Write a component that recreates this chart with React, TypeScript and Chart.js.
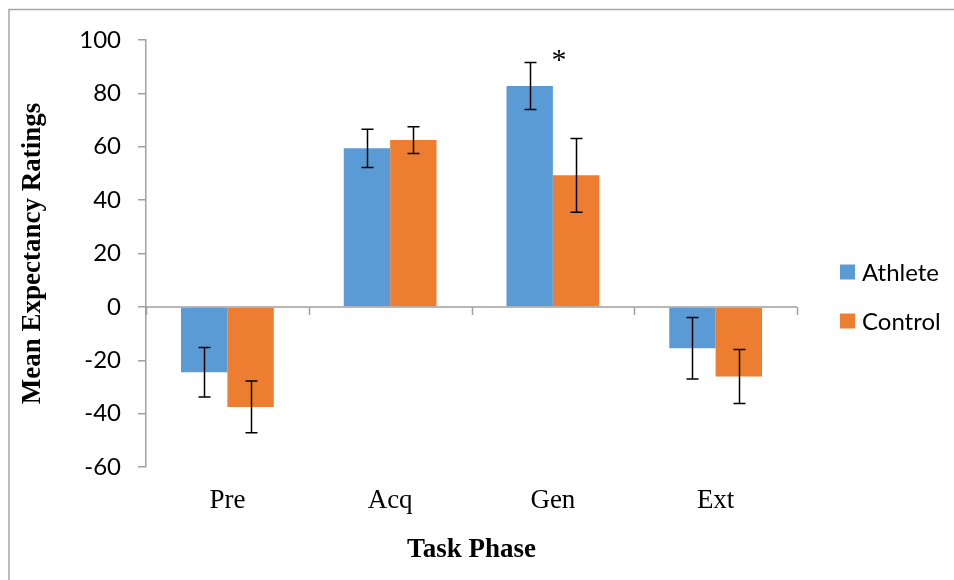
import React, { useEffect, useRef } from "react";
import { Chart, registerables } from "chart.js";

Chart.register(...registerables);

const categories = ["Pre", "Acq", "Gen", "Ext"];
const seriesNames = ["Athlete", "Control"];
const athleteValues = [-24.5, 59.4, 82.8, -15.5];
const controlValues = [-37.5, 62.5, 49.3, -26.1];
const athleteErrors = [9.3, 7.2, 8.8, 11.5];
const controlErrors = [9.7, 5.0, 13.8, 10.1];
const significantMarks = ["", "", "*", ""];
const yTitle = "Mean Expectancy Ratings";
const xTitle = "Task Phase";

const BLUE = "#5B9BD5";
const ORANGE = "#ED7D31";
const AXIS = "#A0A0A0";

const W = 946;
const H = 572;

const errorsByDataset = [athleteErrors, controlErrors];

const framePlugin = {
  id: "frame",
  beforeDraw(chart: any) {
    const ctx = chart.ctx;
    ctx.save();
    ctx.fillStyle = "#ffffff";
    ctx.fillRect(0, 0, chart.width, chart.height);
    ctx.strokeStyle = "#A6A6A6";
    ctx.lineWidth = 1.5;
    ctx.beginPath();
    ctx.moveTo(1, chart.height + 5);
    ctx.lineTo(1, 1.5);
    ctx.lineTo(chart.width + 5, 1.5);
    ctx.stroke();
    ctx.restore();
  },
};

const zeroAxisPlugin = {
  id: "zeroAxis",
  afterDatasetsDraw(chart: any) {
    const ctx = chart.ctx;
    const y = chart.scales.y.getPixelForValue(0);
    const xs = chart.scales.x;
    const { left, right } = chart.chartArea;
    ctx.save();
    ctx.strokeStyle = AXIS;
    ctx.lineWidth = 1.5;
    ctx.beginPath();
    ctx.moveTo(left, y);
    ctx.lineTo(right, y);
    const n = categories.length;
    const step = xs.getPixelForValue(1) - xs.getPixelForValue(0);
    for (let i = 0; i <= n; i++) {
      const px = i === n ? right : xs.getPixelForValue(i) - step / 2;
      const xx = Math.round(px) + 0.5;
      ctx.moveTo(xx, y);
      ctx.lineTo(xx, y + 8);
    }
    ctx.stroke();
    ctx.restore();
  },
};

const errorBarPlugin = {
  id: "errorBars",
  afterDatasetsDraw(chart: any) {
    const ctx = chart.ctx;
    const ys = chart.scales.y;
    ctx.save();
    ctx.strokeStyle = "#000000";
    ctx.lineWidth = 1.5;
    chart.data.datasets.forEach((ds: any, di: number) => {
      const meta = chart.getDatasetMeta(di);
      const errs = errorsByDataset[di];
      meta.data.forEach((el: any, i: number) => {
        const v = ds.data[i];
        const e = errs[i];
        const x = Math.round(el.x) + 0.5;
        const yt = ys.getPixelForValue(v + e);
        const yb = ys.getPixelForValue(v - e);
        ctx.beginPath();
        ctx.moveTo(x, yt);
        ctx.lineTo(x, yb);
        ctx.moveTo(x - 6, yt);
        ctx.lineTo(x + 6, yt);
        ctx.moveTo(x - 6, yb);
        ctx.lineTo(x + 6, yb);
        ctx.stroke();
      });
    });
    const xs = chart.scales.x;
    ctx.fillStyle = "#000000";
    ctx.font = "30px 'Liberation Serif'";
    ctx.textAlign = "center";
    ctx.textBaseline = "middle";
    significantMarks.forEach((m, i) => {
      if (!m) return;
      let top = -Infinity;
      chart.data.datasets.forEach((ds: any, di: number) => {
        top = Math.max(top, ds.data[i] + errorsByDataset[di][i]);
      });
      ctx.fillText(m, xs.getPixelForValue(i) + 6, ys.getPixelForValue(top) - 1);
    });
    ctx.restore();
  },
};

const legendPlugin = {
  id: "customLegend",
  afterDraw(chart: any) {
    const ctx = chart.ctx;
    ctx.save();
    ctx.font = "24px Lato";
    ctx.textBaseline = "middle";
    ctx.textAlign = "left";
    chart.data.datasets.forEach((ds: any, i: number) => {
      const cy = 264 + i * 49;
      ctx.fillStyle = ds.backgroundColor;
      ctx.fillRect(832, cy - 7.5, 15, 15);
      ctx.fillStyle = "#000000";
      ctx.fillText(ds.label, 854, cy + 1);
    });
    ctx.restore();
  },
};

export default function App() {
  const ref = useRef<HTMLCanvasElement | null>(null);
  useEffect(() => {
    if (!ref.current) return;
    const chart = new Chart(ref.current, {
      type: "bar",
      data: {
        labels: categories,
        datasets: [
          { label: seriesNames[0], data: athleteValues, backgroundColor: BLUE, borderWidth: 0 },
          { label: seriesNames[1], data: controlValues, backgroundColor: ORANGE, borderWidth: 0 },
        ],
      },
      options: {
        responsive: false,
        animation: false,
        events: [],
        layout: { padding: { top: 32, right: 157, left: 0, bottom: 0 } },
        plugins: {
          legend: { display: false },
          tooltip: { enabled: false },
          title: { display: false },
        },
        datasets: { bar: { categoryPercentage: 0.57, barPercentage: 1 } },
        scales: {
          x: {
            grid: { display: false },
            border: { display: false },
            ticks: { color: "#000", font: { family: "'Liberation Serif'", size: 27 }, padding: 10 },
            title: {
              display: true,
              text: xTitle,
              color: "#000",
              font: { family: "'Liberation Serif'", size: 27, weight: "bold" },
              padding: { top: 0, bottom: 14 },
            },
            afterFit: (s: any) => { s.height = 113; },
          },
          y: {
            min: -60,
            max: 100,
            ticks: { stepSize: 20, color: "#000", font: { family: "Lato", size: 24 }, padding: 17 },
            grid: { drawOnChartArea: false, drawTicks: true, tickLength: 8, color: AXIS, lineWidth: 1.5 },
            border: { display: true, color: AXIS, width: 1.5 },
            title: {
              display: true,
              text: yTitle,
              color: "#000",
              font: { family: "'Liberation Serif'", size: 27, weight: "bold" },
              padding: { top: 9, bottom: 0 },
            },
            afterFit: (s: any) => { s.width = 138; },
          },
        },
      },
      plugins: [framePlugin, zeroAxisPlugin, errorBarPlugin, legendPlugin],
    });
    return () => chart.destroy();
  }, []);
  return (
    <div style={{ position: "fixed", left: 8, top: 8, width: W, height: H, overflow: "hidden" }}>
      <canvas ref={ref} width={W} height={H} style={{ width: W, height: H, display: "block" }} />
    </div>
  );
}
